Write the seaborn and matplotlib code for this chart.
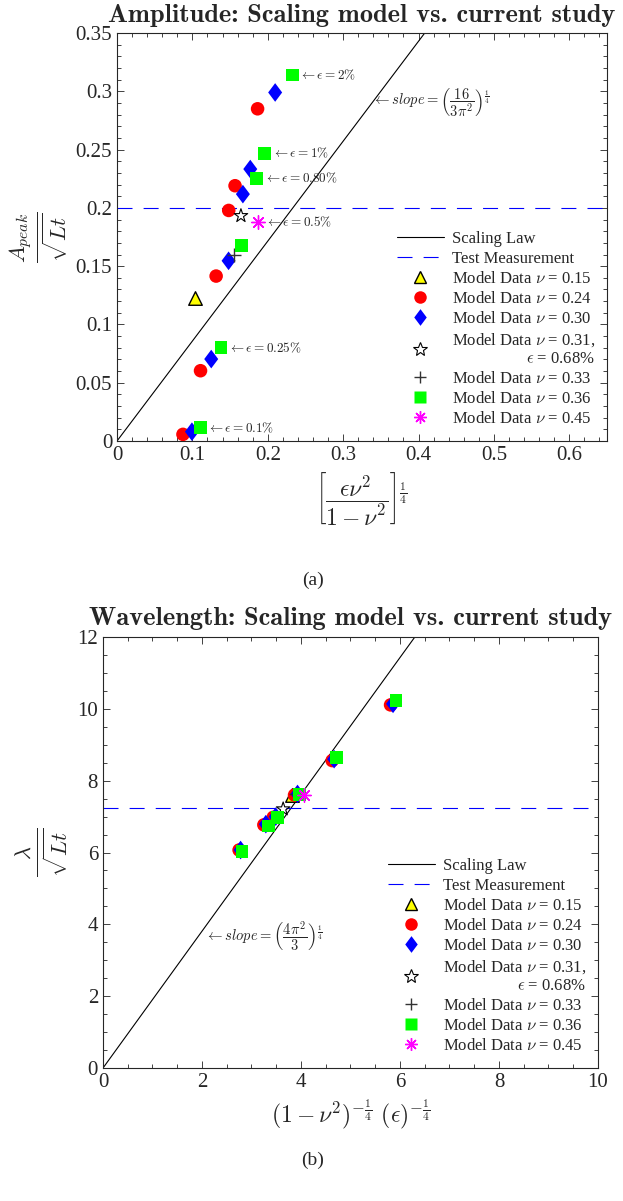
import os
import numpy as np
import matplotlib
matplotlib.use("Agg")
import matplotlib.pyplot as plt
import seaborn as sns
from matplotlib.ticker import MultipleLocator
from matplotlib.lines import Line2D
from matplotlib.font_manager import FontProperties

# ---------------- data: (a) amplitude ----------------
a_nu015_x = [0.1029]
a_nu015_y = [0.1224]
a_nu024_x = [0.0875, 0.1108, 0.1315, 0.1482, 0.1566, 0.1865]
a_nu024_y = [0.0057, 0.0603, 0.1415, 0.1978, 0.2190, 0.2850]
a_nu030_x = [0.0994, 0.1250, 0.1480, 0.1670, 0.1768, 0.2098]
a_nu030_y = [0.0080, 0.0703, 0.1546, 0.2118, 0.2333, 0.2990]
a_nu031_x = [0.1644]
a_nu031_y = [0.1932]
a_nu033_x = [0.1557]
a_nu033_y = [0.1600]
a_nu036_x = [0.1104, 0.1380, 0.1653, 0.1856, 0.1960, 0.2326]
a_nu036_y = [0.0114, 0.0800, 0.1675, 0.2253, 0.2467, 0.3140]
a_nu045_x = [0.1873]
a_nu045_y = [0.1875]
a_test = 0.20
a_slope = (16 / (3 * np.pi ** 2)) ** 0.25
a_eps_labels = ["2%", "1%", "0.80%", "0.25%", "0.1%"]
a_eps_idx = [5, 4, 3, 1, 0]   # index in nu=0.36 series

# ---------------- data: (b) wavelength ----------------
b_nu015_x = [3.82]
b_nu015_y = [7.60]
b_nu024_x = [2.75, 3.25, 3.44, 3.87, 4.63, 5.81]
b_nu024_y = [6.07, 6.77, 6.98, 7.60, 8.56, 10.11]
b_nu030_x = [2.78, 3.29, 3.49, 3.93, 4.67, 5.86]
b_nu030_y = [6.07, 6.79, 7.00, 7.63, 8.60, 10.14]
b_nu031_x = [3.64]
b_nu031_y = [7.21]
b_nu033_x = [3.90]
b_nu033_y = [7.62]
b_nu036_x = [2.81, 3.34, 3.53, 3.97, 4.72, 5.92]
b_nu036_y = [6.04, 6.74, 6.97, 7.62, 8.64, 10.23]
b_nu045_x = [4.07]
b_nu045_y = [7.60]
b_test = 7.23
b_slope = (4 * np.pi ** 2 / 3) ** 0.25

sns.set_style("ticks")
plt.rcParams["font.family"] = ["Liberation Serif", "DejaVu Serif"]
plt.rcParams["mathtext.fontset"] = "cm"
plt.rcParams["xtick.direction"] = "in"
plt.rcParams["ytick.direction"] = "in"

title_fp = FontProperties(fname=os.path.join(matplotlib.get_data_path(), "fonts", "ttf", "cmb10.ttf"), size=19)

fig = plt.figure(figsize=(6.23, 12.01), dpi=100)
ax1 = fig.add_axes([0.1878, 0.6328, 0.7865, 0.3397])
ax2 = fig.add_axes([0.1653, 0.1107, 0.7945, 0.3589])

MS = 95
DIAMOND = [(0, 1), (0.75, 0), (0, -1), (-0.75, 0), (0, 1)]

def series_style():
    return [
        (r"Model Data $\nu$ = 0.15", dict(marker="^", color="#ffff00", edgecolor="black", linewidth=1.0, s=MS)),
        (r"Model Data $\nu$ = 0.24", dict(marker="o", color="#ff0000", edgecolor="none", s=MS)),
        (r"Model Data $\nu$ = 0.30", dict(marker=DIAMOND, color="#0000ff", edgecolor="none", s=MS * 1.9)),
        ("Model Data $\\nu$ = 0.31,\n$\\epsilon$ = 0.68%", dict(marker="*", color="none", edgecolor="black", linewidth=0.8, s=MS * 1.1)),
        (r"Model Data $\nu$ = 0.33", dict(marker="+", color="#333333", linewidth=1.0, s=MS)),
        (r"Model Data $\nu$ = 0.36", dict(marker="s", color="#00ff00", edgecolor="none", s=MS * 0.9)),
        (r"Model Data $\nu$ = 0.45", dict(marker=(8, 2, 0), color="#ff00ff", linewidth=1.0, s=MS)),
    ]

def draw(ax, xs_list, ys_list, slope, test, xmax, ymax):
    xl = np.array([0.0, xmax])
    sns.lineplot(x=xl, y=slope * xl, color="black", linewidth=0.8, ax=ax, legend=False)
    ax.axhline(test, color="#0000ff", linewidth=0.8, linestyle=(0, (13.5, 10)))
    handles = [Line2D([], [], color="black", lw=0.8),
               Line2D([], [], color="#0000ff", lw=0.8, linestyle=(0, (13.5, 10)))]
    labels = ["Scaling Law", "Test Measurement"]
    for (lab, st), xs, ys in zip(series_style(), xs_list, ys_list):
        kw = dict(st)
        sns.scatterplot(x=xs, y=ys, ax=ax, legend=False, zorder=3, **kw)
        m = kw["marker"]
        fc = kw["color"]
        ec = kw.get("edgecolor", fc)
        if (isinstance(m, str) and m == "+") or m == (8, 2, 0):
            h = Line2D([], [], linestyle="none", marker=m, color=fc, markersize=9, markeredgewidth=1.0)
        elif fc == "none":
            h = Line2D([], [], linestyle="none", marker=m, markerfacecolor="none", markeredgecolor=ec,
                       markersize=10, markeredgewidth=0.8)
        else:
            h = Line2D([], [], linestyle="none", marker=m, markerfacecolor=fc,
                       markeredgecolor=("none" if ec == "none" else ec),
                       markersize=9 if m is not DIAMOND else 12, markeredgewidth=1.0)
        handles.append(h)
        labels.append(lab)
    ax.set_xlim(0, xmax)
    ax.set_ylim(0, ymax)
    ax.tick_params(which="both", top=True, right=True, labelsize=15, width=0.6, color="#222222")
    ax.tick_params(which="major", length=5)
    ax.tick_params(which="minor", length=3)
    for sp in ax.spines.values():
        sp.set_linewidth(0.8)
    return handles, labels

fmt = plt.FuncFormatter(lambda v, p: ("%.2f" % v).rstrip("0").rstrip(".") if abs(v) > 1e-12 else "0")

# ---------- (a)
h1, l1 = draw(ax1,
              [a_nu015_x, a_nu024_x, a_nu030_x, a_nu031_x, a_nu033_x, a_nu036_x, a_nu045_x],
              [a_nu015_y, a_nu024_y, a_nu030_y, a_nu031_y, a_nu033_y, a_nu036_y, a_nu045_y],
              a_slope, a_test, 0.65, 0.35)
ax1.xaxis.set_major_locator(MultipleLocator(0.1))
ax1.xaxis.set_minor_locator(MultipleLocator(0.02))
ax1.yaxis.set_major_locator(MultipleLocator(0.05))
ax1.yaxis.set_minor_locator(MultipleLocator(0.01))
ax1.xaxis.set_major_formatter(fmt)
ax1.yaxis.set_major_formatter(fmt)
for lab, i in zip(a_eps_labels, a_eps_idx):
    ax1.annotate(r"$\leftarrow \epsilon = " + lab.replace("%", r"\%") + "$",
                 xy=(a_nu036_x[i], a_nu036_y[i]), xytext=(5, 0), textcoords="offset points",
                 va="center", ha="left", fontsize=9.5)
ax1.annotate(r"$\leftarrow \epsilon = 0.5\%$", xy=(a_nu045_x[0], a_nu045_y[0]), xytext=(5, 0),
             textcoords="offset points", va="center", ha="left", fontsize=9.5)
ax1.text(0.338, 0.290, r"$\leftarrow slope = \left(\dfrac{16}{3\pi^2}\right)^{\frac{1}{4}}$",
         fontsize=10.5, va="center", ha="left")
ax1.set_title("Amplitude: Scaling model vs. current study", fontproperties=title_fp, pad=8)
ax1.set_ylabel(r"$\frac{A_{peak}}{\sqrt{Lt}}$", fontsize=23, labelpad=4)
ax1.set_xlabel(r"$\left[\dfrac{\epsilon\nu^2}{1-\nu^2}\right]^{\frac{1}{4}}$", fontsize=17, labelpad=4)
leg1 = ax1.legend(h1, l1, loc="lower right", bbox_to_anchor=(1.0, 0.005), frameon=False,
                  fontsize=12, labelspacing=0.24, handlelength=2.8, handletextpad=0.5, borderaxespad=0.3)

# ---------- (b)
h2, l2 = draw(ax2,
              [b_nu015_x, b_nu024_x, b_nu030_x, b_nu031_x, b_nu033_x, b_nu036_x, b_nu045_x],
              [b_nu015_y, b_nu024_y, b_nu030_y, b_nu031_y, b_nu033_y, b_nu036_y, b_nu045_y],
              b_slope, b_test, 10, 12)
ax2.xaxis.set_major_locator(MultipleLocator(2))
ax2.xaxis.set_minor_locator(MultipleLocator(0.5))
ax2.yaxis.set_major_locator(MultipleLocator(2))
ax2.yaxis.set_minor_locator(MultipleLocator(0.5))
ax2.text(2.06, 3.68, r"$\leftarrow slope = \left(\dfrac{4\pi^2}{3}\right)^{\frac{1}{4}}$",
         fontsize=10.5, va="center", ha="left")
ax2.set_title("Wavelength: Scaling model vs. current study", fontproperties=title_fp, pad=9)
ax2.set_ylabel(r"$\frac{\lambda}{\sqrt{Lt}}$", fontsize=23, labelpad=4)
ax2.set_xlabel(r"$(1-\nu^2)^{-\frac{1}{4}}\ (\epsilon)^{-\frac{1}{4}}$", fontsize=17, labelpad=4)
leg2 = ax2.legend(h2, l2, loc="lower right", bbox_to_anchor=(1.0, 0.005), frameon=False,
                  fontsize=12, labelspacing=0.24, handlelength=2.8, handletextpad=0.5, borderaxespad=0.3)

for leg in (leg1, leg2):
    for t in leg.get_texts():
        t.set_multialignment("right")

fig.text(313 / 623, 1 - 580 / 1201, "(a)", ha="center", va="center", fontsize=14)
fig.text(313 / 623, 1 - 1160 / 1201, "(b)", ha="center", va="center", fontsize=14)

fig.savefig("out.png", dpi=100)
